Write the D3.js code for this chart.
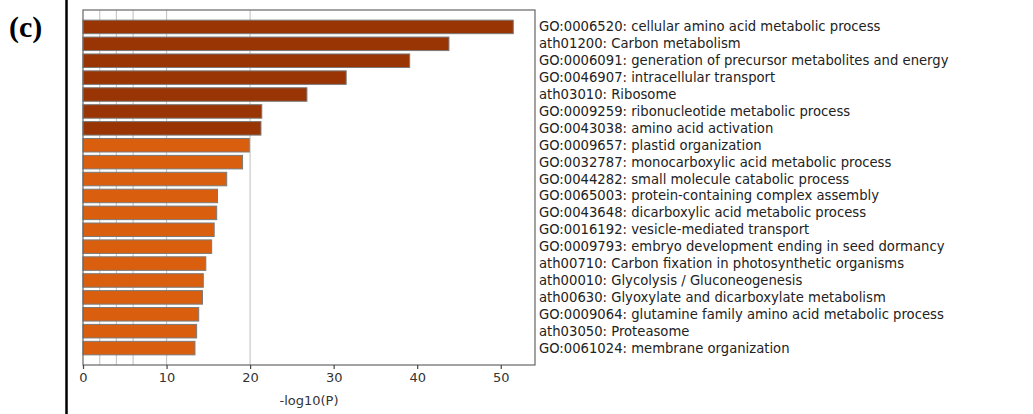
<!DOCTYPE html>
<html>
<head>
<meta charset="utf-8">
<script src="https://cdn.jsdelivr.net/npm/d3@7"></script>
<style>
  html, body { margin: 0; padding: 0; background: #fff; }
  svg { display: block; }
</style>
</head>
<body>
<svg id="chart" width="1033" height="414"></svg>
<script>
const categories = [
  "GO:0006520: cellular amino acid metabolic process",
  "ath01200: Carbon metabolism",
  "GO:0006091: generation of precursor metabolites and energy",
  "GO:0046907: intracellular transport",
  "ath03010: Ribosome",
  "GO:0009259: ribonucleotide metabolic process",
  "GO:0043038: amino acid activation",
  "GO:0009657: plastid organization",
  "GO:0032787: monocarboxylic acid metabolic process",
  "GO:0044282: small molecule catabolic process",
  "GO:0065003: protein-containing complex assembly",
  "GO:0043648: dicarboxylic acid metabolic process",
  "GO:0016192: vesicle-mediated transport",
  "GO:0009793: embryo development ending in seed dormancy",
  "ath00710: Carbon fixation in photosynthetic organisms",
  "ath00010: Glycolysis / Gluconeogenesis",
  "ath00630: Glyoxylate and dicarboxylate metabolism",
  "GO:0009064: glutamine family amino acid metabolic process",
  "ath03050: Proteasome",
  "GO:0061024: membrane organization"
];
const values = [51.5, 43.8, 39.1, 31.5, 26.8, 21.4, 21.3, 19.9, 19.1, 17.2,
                16.1, 16.0, 15.7, 15.4, 14.7, 14.4, 14.3, 13.85, 13.6, 13.4];
const tiers = ["top","top","top","top","top","top","top",
               "rest","rest","rest","rest","rest","rest","rest","rest","rest","rest","rest","rest","rest"];
const xTicks = [0, 10, 20, 30, 40, 50];
const gridValues = [2, 4, 6, 10, 20];
const xLabel = "-log10(P)";
const panelLabel = "(c)";

const svg = d3.select("#chart");
const plot = { left: 83, right: 535, top: 10, bottom: 365 };

const x = d3.scaleLinear().domain([0, 54.1]).range([plot.left, plot.right]);
const y = d3.scaleBand().domain(categories).range([plot.top, plot.bottom])
  .paddingInner(0.2).paddingOuter(0.6);
const color = d3.scaleOrdinal().domain(["top", "rest"]).range(["#993404", "#d95f0e"]);

// panel border line
svg.append("line").attr("x1", 66.5).attr("x2", 66.5).attr("y1", 0).attr("y2", 414)
  .attr("stroke", "#000").attr("stroke-width", 2.5);

svg.append("text").attr("x", 9).attr("y", 36.5)
  .attr("font-family", "'Liberation Serif', 'Times New Roman', serif")
  .attr("font-weight", "bold").attr("font-size", 30).attr("fill", "#000")
  .text(panelLabel);

// gridlines
svg.append("g").selectAll("line").data(gridValues).join("line")
  .attr("x1", d => x(d)).attr("x2", d => x(d))
  .attr("y1", plot.top).attr("y2", plot.bottom)
  .attr("stroke", "#c8c8c8").attr("stroke-width", 1.2);

// bars
svg.append("g").selectAll("rect").data(categories).join("rect")
  .attr("x", x(0))
  .attr("y", d => y(d))
  .attr("width", (d, i) => x(values[i]) - x(0))
  .attr("height", y.bandwidth())
  .attr("fill", (d, i) => color(tiers[i]))
  .attr("stroke", "#7a7a7a").attr("stroke-width", 1);

// frame
svg.append("rect").attr("x", plot.left).attr("y", plot.top)
  .attr("width", plot.right - plot.left).attr("height", plot.bottom - plot.top)
  .attr("fill", "none").attr("stroke", "#666").attr("stroke-width", 1.2);

// x axis
const xAxis = svg.append("g").attr("transform", `translate(0,${plot.bottom})`)
  .call(d3.axisBottom(x).tickValues(xTicks).tickFormat(d3.format("d")).tickSize(4).tickPadding(4));
xAxis.select(".domain").remove();
xAxis.selectAll("line").attr("stroke", "#444").attr("stroke-width", 1.2);
xAxis.selectAll("text").attr("font-family", "'DejaVu Sans', sans-serif")
  .attr("font-size", 13).attr("fill", "#333");

svg.append("text").attr("x", (plot.left + plot.right) / 2).attr("y", 405)
  .attr("text-anchor", "middle")
  .attr("font-family", "'DejaVu Sans', sans-serif").attr("font-size", 13).attr("fill", "#333")
  .text(xLabel);

// category labels on the right
svg.append("g").selectAll("text").data(categories).join("text")
  .attr("x", 539)
  .attr("y", d => y(d) + y.bandwidth() / 2)
  .attr("dominant-baseline", "central")
  .attr("font-family", "'DejaVu Sans', sans-serif").attr("font-size", 13.2).attr("fill", "#222")
  .text(d => d);
</script>
</body>
</html>
